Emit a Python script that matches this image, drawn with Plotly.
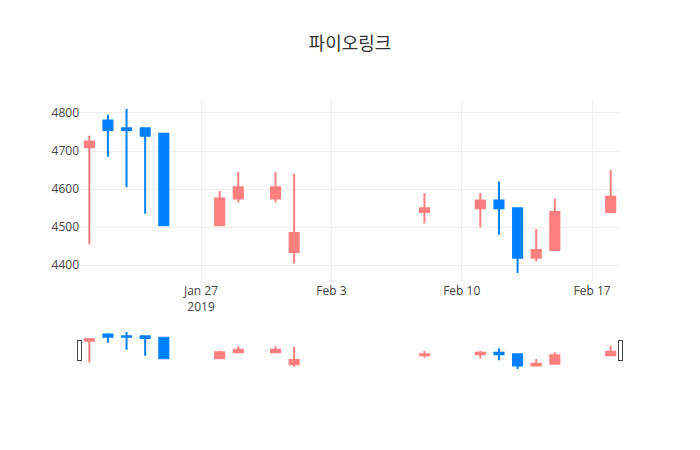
import plotly.graph_objects as go

dates = ["2019-01-21", "2019-01-22", "2019-01-23", "2019-01-24", "2019-01-25",
         "2019-01-28", "2019-01-29", "2019-01-31", "2019-02-01",
         "2019-02-08", "2019-02-11", "2019-02-12", "2019-02-13", "2019-02-14",
         "2019-02-15", "2019-02-18"]
open_ = [4710, 4780, 4760, 4760, 4745, 4505, 4575, 4575, 4435,
         4540, 4550, 4570, 4550, 4420, 4440, 4540]
high = [4740, 4795, 4810, 4760, 4745, 4595, 4645, 4645, 4640,
        4590, 4590, 4620, 4550, 4495, 4575, 4650]
low = [4455, 4685, 4605, 4535, 4505, 4505, 4565, 4565, 4405,
       4510, 4500, 4480, 4380, 4410, 4440, 4540]
close = [4725, 4755, 4755, 4740, 4505, 4575, 4605, 4605, 4485,
         4550, 4570, 4550, 4420, 4440, 4540, 4580]

inc_color = "#FF7F7F"
dec_color = "#0080FF"

fig = go.Figure(go.Candlestick(
    x=dates, open=open_, high=high, low=low, close=close,
    increasing=dict(line=dict(color=inc_color), fillcolor=inc_color),
    decreasing=dict(line=dict(color=dec_color), fillcolor=dec_color),
    showlegend=False,
))

fig.update_layout(
    width=700, height=450,
    title=dict(text="파이오링크", x=0.5, xanchor="center",
               font=dict(size=18, color="#333")),
    font=dict(family="Open Sans, Noto Sans CJK KR, sans-serif", color="#444"),
    paper_bgcolor="white", plot_bgcolor="white",
    xaxis=dict(showgrid=True, gridcolor="#eee", rangeslider=dict(visible=True)),
    yaxis=dict(showgrid=True, gridcolor="#eee", zeroline=False),
)

fig.write_html("out.html")
